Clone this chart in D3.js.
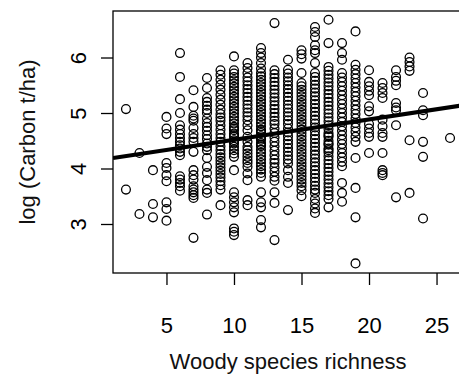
<!DOCTYPE html>
<html>
<head>
<meta charset="utf-8">
<script src="https://cdn.jsdelivr.net/npm/d3@7"></script>
<style>
html,body{margin:0;padding:0;background:#fff;}
svg{display:block;}
text{font-family:"Liberation Sans",Arial,sans-serif;fill:#000;}
</style>
</head>
<body>
<svg id="chart" width="459" height="380"></svg>
<script>
// Woody species richness levels (x) and log(Carbon t/ha) observations for each level
const richnessLevels = [2,3,4,5,6,7,8,9,10,11,12,13,14,15,16,17,18,19,20,21,22,23,24,26];
const carbonByRichness = [
  [5.07, 3.62],
  [4.28, 3.18],
  [3.97, 3.36, 3.12],
  [4.93, 4.72, 4.62, 4.10, 4.01, 3.88, 3.77, 3.39, 3.27, 3.06],
  [6.08, 5.65, 5.25, 5.00, 4.78, 4.70, 4.62, 4.55, 4.48, 4.42, 4.36, 4.30, 4.24, 3.86, 3.80, 3.74, 3.68, 3.60],
  [5.41, 5.11, 4.95, 4.90, 4.86, 4.73, 4.62, 4.55, 4.48, 4.30, 3.97, 3.88, 3.80, 3.68, 3.62, 3.57, 3.52, 3.47, 2.75],
  [5.63, 5.45, 5.27, 5.20, 5.13, 5.06, 5.00, 4.90, 4.82, 4.75, 4.68, 4.60, 4.53, 4.45, 4.39, 4.33, 4.19, 4.03, 3.92, 3.79, 3.62, 3.56, 3.17],
  [5.77, 5.69, 5.60, 5.51, 5.42, 5.33, 5.24, 5.15, 5.06, 4.98, 4.92, 4.86, 4.78, 4.70, 4.62, 4.55, 4.48, 4.40, 4.33, 4.26, 4.20, 4.14, 4.08, 4.02, 3.96, 3.90, 3.84, 3.77, 3.70, 3.62, 3.34],
  [6.02, 5.77, 5.71, 5.65, 5.59, 5.53, 5.47, 5.41, 5.35, 5.29, 5.23, 5.17, 5.11, 5.05, 4.99, 4.93, 4.87, 4.81, 4.75, 4.69, 4.63, 4.57, 4.51, 4.45, 4.39, 4.33, 4.27, 4.21, 4.72, 4.60, 4.48, 3.97, 3.57, 3.48, 3.39, 3.30, 3.21, 2.92, 2.86, 2.80],
  [5.90, 5.81, 5.72, 5.64, 5.57, 5.50, 5.43, 5.36, 5.29, 5.22, 5.15, 5.08, 5.01, 4.94, 4.87, 4.78, 4.69, 4.57, 4.48, 4.39, 4.33, 4.27, 4.21, 4.15, 4.10, 4.03, 3.91, 3.79, 3.43, 3.34],
  [6.17, 6.08, 6.00, 5.90, 5.80, 5.72, 5.66, 5.60, 5.54, 5.48, 5.42, 5.36, 5.30, 5.24, 5.18, 5.12, 5.06, 5.00, 4.94, 4.88, 4.82, 4.76, 4.70, 4.64, 4.58, 4.52, 4.46, 4.40, 4.34, 4.28, 4.22, 4.16, 4.10, 4.04, 3.98, 3.92, 3.85, 4.67, 4.55, 4.43, 3.57, 3.39, 3.30, 3.07, 2.94],
  [6.62, 5.77, 5.70, 5.63, 5.56, 5.49, 5.42, 5.35, 5.28, 5.21, 5.14, 5.07, 5.00, 4.93, 4.86, 4.80, 4.72, 4.64, 4.56, 4.48, 4.40, 4.32, 4.24, 4.16, 4.10, 4.02, 3.94, 3.85, 3.78, 3.57, 3.38, 2.71],
  [5.96, 5.78, 5.71, 5.64, 5.57, 5.50, 5.43, 5.36, 5.29, 5.22, 5.15, 5.08, 5.01, 4.94, 4.87, 4.80, 4.72, 4.65, 4.58, 4.51, 4.44, 4.37, 4.30, 4.23, 4.16, 4.09, 3.97, 3.85, 3.74, 3.25],
  [6.13, 6.06, 5.98, 5.72, 5.54, 5.48, 5.42, 5.36, 5.30, 5.24, 5.18, 5.12, 5.06, 5.00, 4.94, 4.88, 4.82, 4.76, 4.70, 4.64, 4.58, 4.52, 4.46, 4.40, 4.34, 4.28, 4.22, 4.16, 4.10, 4.04, 3.98, 3.92, 3.86, 3.80, 3.74, 3.68, 3.61, 3.50],
  [6.55, 6.46, 6.37, 6.22, 6.13, 6.08, 5.90, 5.72, 5.65, 5.58, 5.51, 5.44, 5.37, 5.30, 5.23, 5.16, 5.09, 5.02, 4.95, 4.88, 4.81, 4.74, 4.67, 4.60, 4.53, 4.46, 4.39, 4.32, 4.25, 4.18, 4.11, 4.04, 3.97, 3.90, 3.83, 3.76, 3.69, 3.62, 3.56, 3.45, 3.37, 3.28, 3.20],
  [6.68, 6.26, 5.83, 5.76, 5.69, 5.62, 5.55, 5.48, 5.41, 5.34, 5.27, 5.20, 5.13, 5.06, 4.99, 4.92, 4.85, 4.78, 4.71, 4.64, 4.57, 4.50, 4.43, 4.36, 4.29, 4.22, 4.15, 4.08, 4.01, 3.94, 3.87, 3.80, 3.73, 3.66, 3.59, 3.52, 3.45, 3.30, 4.60, 4.45, 4.33],
  [6.26, 6.08, 5.96, 5.72, 5.64, 5.56, 5.48, 5.40, 5.32, 5.24, 5.16, 5.08, 5.00, 4.92, 4.84, 4.76, 4.68, 4.60, 4.52, 4.44, 4.36, 4.28, 4.20, 4.12, 4.04, 3.74, 3.56, 3.40],
  [6.47, 5.87, 5.78, 5.70, 5.62, 5.54, 5.46, 5.38, 5.30, 5.22, 5.14, 5.06, 4.98, 4.90, 4.82, 4.74, 4.66, 4.57, 4.48, 4.19, 3.65, 3.12, 2.29],
  [5.77, 5.56, 5.48, 5.40, 5.32, 5.12, 5.03, 4.80, 4.72, 4.64, 4.57, 4.28],
  [5.54, 5.45, 5.36, 5.27, 4.88, 4.76, 4.64, 4.57, 4.28, 3.97, 3.92, 3.88],
  [5.77, 5.65, 5.58, 5.50, 5.18, 5.10, 5.05, 4.78, 3.48],
  [6.00, 5.92, 5.84, 5.76, 4.51, 3.56],
  [5.36, 5.05, 4.96, 4.48, 4.21, 3.10],
  [4.55]
];
const xTicks = [5, 10, 15, 20, 25];
const yTicks = [3, 4, 5, 6];
const fitIntercept = 4.15;   // fitted regression line
const fitSlope = 0.0367;
const xTitle = "Woody species richness";
const yTitle = "log (Carbon t/ha)";

const points = [];
richnessLevels.forEach((r, i) => carbonByRichness[i].forEach(v => points.push({r, v})));

const svg = d3.select("#chart");
const plot = {left: 113, top: 11, right: 463, bottom: 273};
const x = d3.scaleLinear().domain([1.04, 26.96]).range([plot.left, plot.right]);
const y = d3.scaleLinear().domain([2.117, 6.838]).range([plot.bottom, plot.top]);

svg.append("defs").append("clipPath").attr("id", "clip")
  .append("rect").attr("x", plot.left).attr("y", plot.top)
  .attr("width", plot.right - plot.left).attr("height", plot.bottom - plot.top);

// points
svg.append("g").selectAll("circle").data(points).join("circle")
  .attr("cx", d => x(d.r)).attr("cy", d => y(d.v)).attr("r", 4.4)
  .attr("fill", "none").attr("stroke", "#000").attr("stroke-width", 1.3);

// regression line
const [x0, x1] = x.domain();
svg.append("line").attr("clip-path", "url(#clip)")
  .attr("x1", x(x0)).attr("y1", y(fitIntercept + fitSlope * x0))
  .attr("x2", x(x1)).attr("y2", y(fitIntercept + fitSlope * x1))
  .attr("stroke", "#000").attr("stroke-width", 4);

// box
svg.append("rect").attr("x", plot.left).attr("y", plot.top)
  .attr("width", plot.right - plot.left).attr("height", plot.bottom - plot.top)
  .attr("fill", "none").attr("stroke", "#000").attr("stroke-width", 1.3);

// axes
const xAxis = d3.axisBottom(x).tickValues(xTicks).tickSize(12).tickPadding(0).tickFormat(d3.format("d"));
const gx = svg.append("g").attr("transform", `translate(0,${plot.bottom})`).call(xAxis);
gx.select(".domain").remove();
gx.selectAll(".tick line").attr("stroke", "#000").attr("stroke-width", 1.3);
gx.selectAll(".tick text").attr("dy", null).attr("y", 60).style("font-size", "22px")
  .style("font-family", "Liberation Sans, Arial, sans-serif").attr("fill", "#111");

const yAxis = d3.axisLeft(y).tickValues(yTicks).tickSize(12).tickFormat(d3.format("d"));
const gy = svg.append("g").attr("transform", `translate(${plot.left},0)`).call(yAxis);
gy.select(".domain").remove();
gy.selectAll(".tick line").attr("stroke", "#000").attr("stroke-width", 1.3);
gy.selectAll(".tick text").attr("x", null).attr("dy", null)
  .attr("transform", "translate(-27,0) rotate(-90)")
  .attr("text-anchor", "middle").style("font-size", "22px")
  .style("font-family", "Liberation Sans, Arial, sans-serif").attr("fill", "#111");

// titles
svg.append("text").attr("x", (plot.left + plot.right) / 2).attr("y", 369)
  .attr("text-anchor", "middle").style("font-size", "22px").style("fill", "#111").text(xTitle);
svg.append("text").attr("transform", `translate(35,${(plot.top + plot.bottom) / 2}) rotate(-90)`)
  .attr("text-anchor", "middle").style("font-size", "22px").style("fill", "#111").text(yTitle);
</script>
</body>
</html>
